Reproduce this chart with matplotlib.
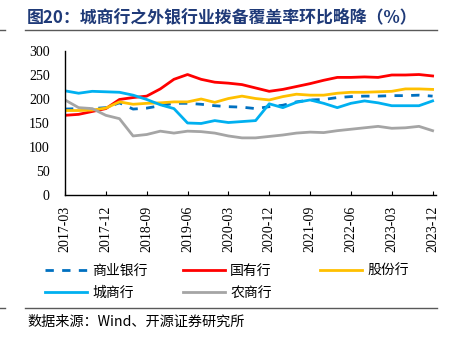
import matplotlib
matplotlib.use("Agg")
import matplotlib.pyplot as plt
import numpy as np
from matplotlib.lines import Line2D

quarters = ["2017-03", "2017-06", "2017-09", "2017-12", "2018-03", "2018-06", "2018-09",
            "2018-12", "2019-03", "2019-06", "2019-09", "2019-12", "2020-03", "2020-06",
            "2020-09", "2020-12", "2021-03", "2021-06", "2021-09", "2021-12", "2022-03",
            "2022-06", "2022-09", "2022-12", "2023-03", "2023-06", "2023-09", "2023-12"]
tick_labels = quarters[::3]

commercial = [179, 180, 180, 182, 192, 179, 181, 186, 191, 191, 189, 186, 184, 183,
              180, 184, 187, 194, 198, 199, 203, 205, 206, 206, 207, 207, 208, 206]
state_owned = [166, 168, 174, 180, 199, 203, 206, 221, 241, 251, 241, 235, 233, 230,
               223, 216, 220, 226, 232, 239, 245, 245, 246, 245, 250, 250, 251, 248]
joint_stock = [176, 176, 177, 181, 194, 189, 191, 192, 194, 194, 200, 193, 201, 206,
               201, 198, 205, 210, 208, 208, 212, 214, 214, 215, 216, 221, 221, 220]
city = [217, 212, 216, 215, 214, 208, 199, 188, 180, 150, 149, 155, 151, 153,
        155, 190, 182, 193, 198, 191, 182, 191, 196, 192, 186, 186, 186, 196]
rural = [198, 182, 180, 166, 159, 123, 126, 133, 129, 133, 132, 129, 123, 119,
         119, 122, 125, 129, 131, 130, 134, 137, 140, 143, 139, 140, 143, 134]

names = ["商业银行", "国有行", "股份行", "城商行", "农商行"]
colors = ["#0070C0", "#FF0000", "#FFC000", "#00B0F0", "#A5A5A5"]

W, H = 452, 341
fig = plt.figure(figsize=(W / 100, H / 100), dpi=100)
cjk = ["Noto Sans CJK SC", "DejaVu Sans"]
serif = ["Liberation Serif", "DejaVu Serif"]

ax = fig.add_axes([65 / W, 1 - 195 / H, (436 - 65) / W, (195 - 51) / H])
x = np.arange(len(quarters))
series = [commercial, state_owned, joint_stock, city, rural]
handles = []
for i, (vals, name, c) in enumerate(zip(series, names, colors)):
    if i == 0:
        ln, = ax.plot(x, vals, color=c, lw=2.0, linestyle=(0, (3, 3)), label=name)
    else:
        ln, = ax.plot(x, vals, color=c, lw=2.0, label=name)
    handles.append(ln)

ax.set_xlim(0, 27.25)
ax.set_ylim(0, 300)
ax.set_yticks(np.arange(0, 301, 50))
ax.set_xticks(x[::3])
ax.set_xticklabels(tick_labels, rotation=90, fontfamily=serif, fontsize=10)
for t in ax.get_yticklabels():
    t.set_fontfamily(serif)
    t.set_fontsize(10)
ax.tick_params(axis="y", length=0, pad=11)
ax.tick_params(axis="x", direction="in", length=3, pad=8)
for s in ["top", "right"]:
    ax.spines[s].set_visible(False)
for s in ["left", "bottom"]:
    ax.spines[s].set_linewidth(1.0)

# legend as three fixed columns
cols = [([handles[0], handles[3]], [names[0], names[3]], 45),
        ([handles[1], handles[4]], [names[1], names[4]], 183),
        ([handles[2]], [names[2]], 320)]
for hs, ls, xpx in cols:
    leg = fig.legend(hs, ls, loc="upper left", bbox_to_anchor=(xpx / W, 1 - 264 / H),
                     frameon=False, borderpad=0, borderaxespad=0, handlelength=3.0,
                     handletextpad=0.4, labelspacing=0.55,
                     prop={"family": cjk, "size": 10})

# title
fig.text(27 / W, 1 - 17 / H, "图20：城商行之外银行业拨备覆盖率环比略降（%）",
         fontfamily=cjk, fontsize=12.2, fontweight="bold", color="#1F3A78",
         ha="left", va="center")
# rules
for ypx in (30, 308):
    fig.add_artist(Line2D([25 / W, 437 / W], [1 - ypx / H, 1 - ypx / H],
                          color="#595959", lw=1.0))
    fig.add_artist(Line2D([0, 5 / W], [1 - ypx / H, 1 - ypx / H],
                          color="#595959", lw=1.0))
# source
fig.text(27 / W, 1 - 322 / H, "数据来源：Wind、开源证券研究所",
         fontfamily=cjk, fontsize=10.2, color="#000000", ha="left", va="center")

fig.savefig("out.png", dpi=100)
